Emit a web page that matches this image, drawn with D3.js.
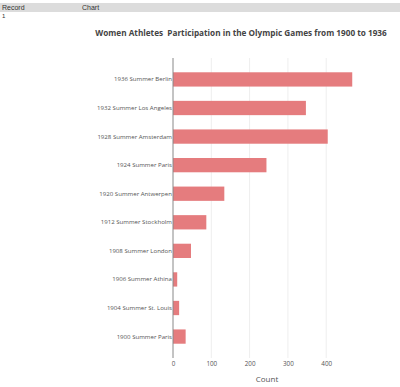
<!DOCTYPE html>
<html><head><meta charset="utf-8">
<script src="https://cdn.jsdelivr.net/npm/d3@7"></script>
<style>
body{margin:0;background:#fff;font-family:"Open Sans",sans-serif;}
</style></head>
<body><svg id="c" width="400" height="387"></svg>
<script>
const categories = ["1936 Summer Berlin","1932 Summer Los Angeles","1928 Summer Amsterdam","1924 Summer Paris","1920 Summer Antwerpen","1912 Summer Stockholm","1908 Summer London","1906 Summer Athina","1904 Summer St. Louis","1900 Summer Paris"];
const counts = [468,347,404,244,134,87,47,11,16,33];
const xTicks = [0,100,200,300,400];

const svg = d3.select("#c");
// header
svg.append("rect").attr("x",0).attr("y",3).attr("width",400).attr("height",9).attr("fill","#dcdcdc");
svg.append("text").attr("x",2).attr("y",10).attr("font-size",7).attr("fill","#333").attr("font-family","Liberation Sans, Arial").text("Record");
svg.append("text").attr("x",82).attr("y",10).attr("font-size",7).attr("fill","#333").attr("font-family","Liberation Sans, Arial").text("Chart");
svg.append("text").attr("x",2).attr("y",18).attr("font-size",6).attr("fill","#333").attr("font-family","Liberation Sans, Arial").text("1");

const title = svg.append("text").attr("x",241).attr("y",36).attr("text-anchor","middle")
  .style("white-space","pre")
  .attr("font-size",10).attr("font-weight","bold").attr("fill","#444")
  .text("Women Athletes  Participation in the Olympic Games from 1900 to 1936");
const tl = title.node().getComputedTextLength();
title.attr("font-size", 10 * 292 / tl);

const x = d3.scaleLinear().domain([0,100]).range([173,211.3]);
const y = d3.scaleBand().domain(categories).range([58,358]).padding(0.5);

const g = svg.append("g");
g.selectAll(".grid").data(xTicks.slice(1)).join("line")
  .attr("x1",d=>x(d)).attr("x2",d=>x(d)).attr("y1",58).attr("y2",358)
  .attr("stroke","#eee").attr("stroke-width",1);

g.selectAll(".bar").data(categories).join("rect")
  .attr("x",x(0)).attr("y",d=>y(d)).attr("height",y.bandwidth())
  .attr("width",(d,i)=>x(counts[i])-x(0)).attr("fill","#e57c7e");

g.append("line").attr("x1",x(0)).attr("x2",x(0)).attr("y1",58).attr("y2",358).attr("stroke","#888").attr("stroke-width",1);

const yAxis = d3.axisLeft(y).tickSize(0).tickPadding(1);
const ya = svg.append("g").attr("transform",`translate(${x(0)},0)`).call(yAxis);
ya.select(".domain").remove();
ya.selectAll("text").attr("font-size",6.1).attr("fill","#555").attr("font-family","Open Sans, sans-serif");

const xAxis = d3.axisBottom(x).tickValues(xTicks).tickSize(0).tickPadding(4);
const xa = svg.append("g").attr("transform",`translate(0,358)`).call(xAxis);
xa.select(".domain").remove();
xa.selectAll("text").attr("font-size",6.3).attr("fill","#555").attr("font-family","Open Sans, sans-serif");

svg.append("text").attr("x",267).attr("y",382).attr("text-anchor","middle").attr("font-size",8).attr("fill","#555").text("Count");
</script></body></html>
